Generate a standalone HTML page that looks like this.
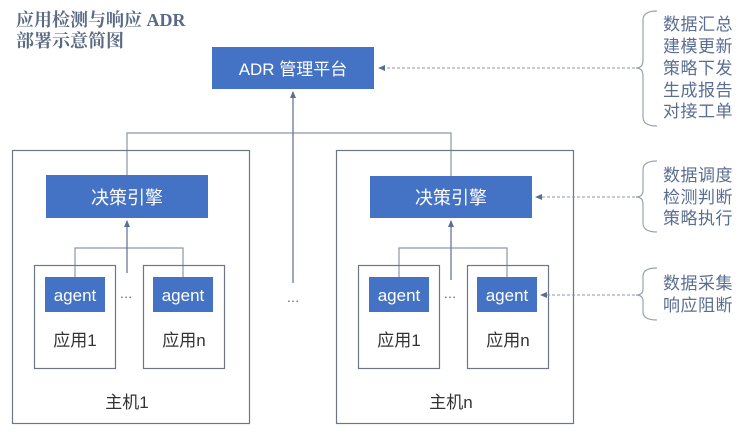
<!DOCTYPE html>
<html><head><meta charset="utf-8"><style>
html,body{margin:0;padding:0;background:#fff;}
svg{display:block;}
.t{font-family:"Liberation Sans","Noto Sans CJK SC",sans-serif;}
</style></head><body>
<svg width="750" height="438" viewBox="0 0 750 438" xmlns="http://www.w3.org/2000/svg">
<defs>
<marker id="ar" markerWidth="8" markerHeight="8" refX="6" refY="4" orient="auto" markerUnits="userSpaceOnUse">
<path d="M0,1 L7,4 L0,7 Z" fill="#5b6f96"/></marker>
</defs>
<text x="16" y="26" font-family="'Liberation Serif','Noto Serif CJK SC',serif" font-size="18" font-weight="bold" fill="#5a6a84">应用检测与响应 ADR</text>
<text x="16" y="47" font-family="'Liberation Serif','Noto Serif CJK SC',serif" font-size="18" font-weight="bold" fill="#5a6a84">部署示意简图</text>

<rect x="212" y="47" width="162" height="42" fill="#4472c4"/>
<text class="t" x="293" y="75" font-size="17" fill="#fff" text-anchor="middle">ADR 管理平台</text>

<g stroke="#8c96a8" stroke-width="1.2" fill="none">
<path d="M127 175 V133 H451 V176"/>
<path d="M75 277 V248 H183 V277"/>
<path d="M399 277 V248 H507 V277"/>
</g>
<g stroke="#6a7898" stroke-width="1.3" fill="none">
<line x1="293" y1="283" x2="293" y2="92" marker-end="url(#ar)"/>
<line x1="127" y1="273" x2="127" y2="221" marker-end="url(#ar)"/>
<line x1="451" y1="280" x2="451" y2="221" marker-end="url(#ar)"/>
</g>
<text class="t" x="293" y="302" font-size="13" fill="#555" text-anchor="middle">…</text>

<g stroke="#6e7585" stroke-width="1.2" fill="none">
<rect x="12.5" y="150.5" width="237" height="273"/>
<rect x="336.5" y="150.5" width="237" height="273"/>
<rect x="34.5" y="265.5" width="81" height="103"/>
<rect x="143.5" y="265.5" width="81" height="103"/>
<rect x="358.5" y="265.5" width="81" height="103"/>
<rect x="467.5" y="265.5" width="81" height="103"/>
</g>
<rect x="46" y="175" width="162" height="43" fill="#4472c4"/>
<rect x="370" y="176" width="162" height="42" fill="#4472c4"/>
<text class="t" x="127" y="204" font-size="18" fill="#fff" text-anchor="middle">决策引擎</text>
<text class="t" x="451" y="204" font-size="18" fill="#fff" text-anchor="middle">决策引擎</text>

<g fill="#4472c4">
<rect x="45" y="277" width="60" height="35"/>
<rect x="153" y="277" width="60" height="35"/>
<rect x="369" y="277" width="60" height="35"/>
<rect x="477" y="277" width="60" height="35"/>
</g>
<g class="t" font-size="17" fill="#fff" text-anchor="middle">
<text x="75" y="301">agent</text><text x="183" y="301">agent</text>
<text x="399" y="301">agent</text><text x="507" y="301">agent</text>
</g>
<g class="t" font-size="17" fill="#333" text-anchor="middle">
<text x="75" y="346">应用1</text><text x="184" y="346">应用n</text>
<text x="399" y="346">应用1</text><text x="508" y="346">应用n</text>
<text x="127" y="408">主机1</text><text x="451" y="408">主机n</text>
</g>
<g class="t" font-size="13" fill="#555" text-anchor="middle">
<text x="126" y="298">…</text><text x="450" y="298">…</text>
</g>

<g stroke="#8c96a8" stroke-width="1.1" stroke-dasharray="3,2" fill="none">
<line x1="640" y1="68" x2="379" y2="68" marker-end="url(#ar)"/>
<line x1="640" y1="197" x2="536" y2="197" marker-end="url(#ar)"/>
<line x1="640" y1="295" x2="541" y2="295" marker-end="url(#ar)"/>
</g>

<g stroke="#9aa3b3" stroke-width="1.2" fill="none">
<path d="M657 11 Q643 11 643 20 V60 Q643 68 636 68 Q643 68 643 76 V117 Q643 126 657 126"/>
<path d="M657 161 Q643 161 643 170 V190 Q643 197 636 197 Q643 197 643 204 V223 Q643 232 657 232"/>
<path d="M657 268 Q643 268 643 276 V289 Q643 295 636 295 Q643 295 643 301 V312 Q643 320 657 320"/>
</g>
<g class="t" font-size="17" fill="#5a6e92" letter-spacing="0.5">
<text x="663" y="30">数据汇总</text>
<text x="663" y="52">建模更新</text>
<text x="663" y="74">策略下发</text>
<text x="663" y="96">生成报告</text>
<text x="663" y="117">对接工单</text>
<text x="663" y="181">数据调度</text>
<text x="663" y="203">检测判断</text>
<text x="663" y="224">策略执行</text>
<text x="663" y="289">数据采集</text>
<text x="663" y="311">响应阻断</text>
</g>
</svg>
</body></html>
